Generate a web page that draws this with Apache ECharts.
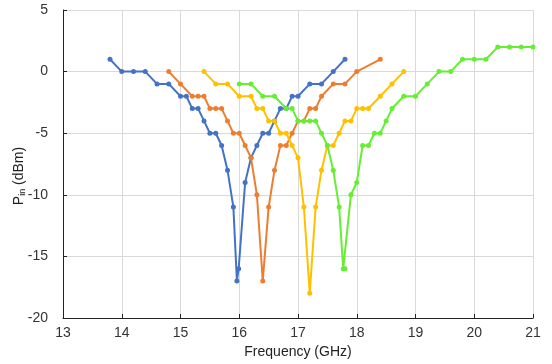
<!DOCTYPE html>
<html><head><meta charset="utf-8">
<script src="https://cdn.jsdelivr.net/npm/echarts@6/dist/echarts.min.js"></script>
<style>html,body{margin:0;padding:0;background:#fff}#c{width:552px;height:364px}</style>
</head><body><div id="c"></div>
<script>
const blueX = [13.8,14.0,14.2,14.4,14.6,14.8,15.0,15.1,15.2,15.3,15.4,15.5,15.6,15.7,15.8,15.9,15.96,15.99,16.1,16.2,16.3,16.4,16.5,16.6,16.7,16.8,16.9,17.0,17.2,17.4,17.6,17.8];
const blueY = [1,0,0,0,-1,-1,-2,-2,-3,-3,-4,-5,-5,-6,-8,-11,-17,-16,-9,-7,-6,-5,-5,-4,-3,-3,-2,-2,-1,-1,0,1];
const orangeX = [14.8,15.0,15.2,15.3,15.4,15.5,15.6,15.7,15.8,15.9,16.0,16.1,16.2,16.3,16.4,16.5,16.6,16.7,16.8,16.9,17.0,17.1,17.2,17.3,17.4,17.6,17.8,18.0,18.4];
const orangeY = [0,-1,-2,-2,-2,-3,-3,-3,-4,-5,-5,-6,-7,-10,-17,-11,-8,-6,-6,-5,-4,-4,-3,-3,-2,-1,-1,0,1];
const yellowX = [15.4,15.6,15.8,16.0,16.2,16.3,16.4,16.5,16.6,16.7,16.8,16.9,17.0,17.1,17.2,17.3,17.4,17.5,17.6,17.7,17.8,17.9,18.0,18.1,18.2,18.4,18.6,18.8];
const yellowY = [0,-1,-1,-2,-2,-3,-3,-4,-4,-5,-5,-6,-7,-11,-18,-11,-8,-6,-6,-5,-4,-4,-3,-3,-3,-2,-1,0];
const greenX = [16.0,16.2,16.4,16.6,16.8,16.9,17.0,17.1,17.2,17.3,17.4,17.5,17.6,17.7,17.77,17.8,17.9,18.0,18.1,18.2,18.3,18.4,18.5,18.6,18.8,19.0,19.2,19.4,19.6,19.8,20.0,20.2,20.4,20.6,20.8,21.0];
const greenY = [-1,-1,-2,-2,-3,-3,-4,-4,-4,-4,-5,-6,-8,-11,-16,-16,-10,-9,-6,-6,-5,-5,-4,-3,-2,-2,-1,0,0,1,1,1,2,2,2,2];
const xTitle = 'Frequency (GHz)';

const zip = (xs, ys) => xs.map((x, i) => [x, ys[i]]);
const font = 'Liberation Sans';
function mk(name, xs, ys, color) {
  return { name, type: 'line', data: zip(xs, ys), symbol: 'circle', symbolSize: 5,
    lineStyle: { color, width: 2 }, itemStyle: { color }, animation: false };
}
const chart = echarts.init(document.getElementById('c'));
chart.setOption({
  animation: false,
  grid: { left: 63, right: 19, top: 10, bottom: 46 },
  xAxis: { type: 'value', min: 13, max: 21, interval: 1,
    name: xTitle, nameLocation: 'middle', nameGap: 27,
    nameTextStyle: { fontFamily: font, fontSize: 14, color: '#222' },
    axisLine: { show: true, onZero: false, lineStyle: { color: '#222', width: 1 } },
    axisTick: { show: true, inside: true, length: 4, lineStyle: { color: '#222' } },
    axisLabel: { fontFamily: font, fontSize: 14, color: '#333', margin: 8 },
    splitLine: { show: true, lineStyle: { color: '#d9d9d9', width: 1 } } },
  yAxis: { type: 'value', min: -20, max: 5, interval: 5,
    axisLine: { show: true, onZero: false, lineStyle: { color: '#222', width: 1 } },
    axisTick: { show: true, inside: true, length: 4, lineStyle: { color: '#222' } },
    axisLabel: { fontFamily: font, fontSize: 14, color: '#333', margin: 15 },
    splitLine: { show: true, lineStyle: { color: '#d9d9d9', width: 1 } } },
  graphic: [{ type: 'text', x: 19, y: 176, rotation: Math.PI / 2,
    style: { text: '{p|P}{s|in}{p| (dBm)}', textAlign: 'center', textVerticalAlign: 'middle',
      rich: { p: { fontFamily: font, fontSize: 14, fill: '#222' },
              s: { fontFamily: font, fontSize: 9, fill: '#222', padding: [7, 0, 0, 0] } } } }],
  series: [
    mk('blue', blueX, blueY, '#4472C4'),
    mk('orange', orangeX, orangeY, '#ED7D31'),
    mk('yellow', yellowX, yellowY, '#FFC000'),
    mk('green', greenX, greenY, '#66EE33')
  ]
});
</script></body></html>
